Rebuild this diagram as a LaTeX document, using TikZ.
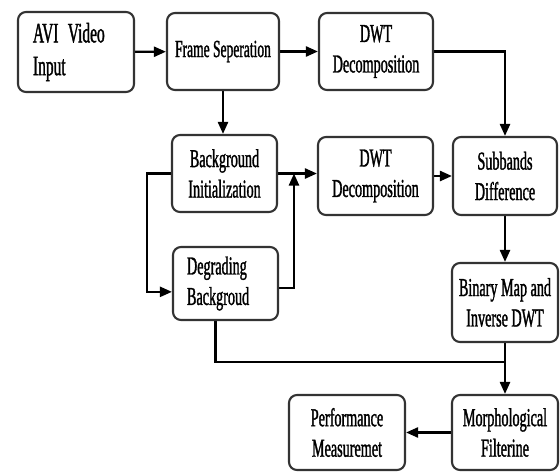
\documentclass[tikz,border=0pt]{standalone}
\usepackage{fontspec}
\setmainfont{Liberation Serif}[FakeStretch=0.55, FakeBold=1.2]
\usepackage{tikz}
\usetikzlibrary{arrows.meta}
\pgfdeclarelayer{bg}
\pgfsetlayers{bg,main}
\tikzset{
  blk/.style={draw=black!80, line width=1.8pt, rounded corners=0.24cm, fill=white,
    minimum width=3.2cm, minimum height=2.3cm, align=center, inner sep=2pt,
    font=\fontsize{22}{26}\selectfont},
  flow/.style={line width=2pt, -{Triangle[length=0.36cm, width=0.3cm]}},
  wire/.style={line width=2pt}
}
\begin{document}
\begin{tikzpicture}
        \useasboundingbox (0cm, 0cm) rectangle (16.8cm, -14.19cm);
        \node (avi) [blk, minimum width=3.48cm, minimum height=2.4cm, align=left, text width=2.58cm, font=\fontsize{24}{28}\selectfont] at (2.280000cm, -1.560000cm) {AVI Video\\Input};
        \node (frame) [blk, minimum width=3.36cm, minimum height=2.31cm, font=\fontsize{21}{25}\selectfont] at (6.690000cm, -1.545000cm) {Frame Seperation};
        \node (dwtA) [blk, minimum width=3.42cm, minimum height=2.31cm] at (11.280000cm, -1.545000cm) {DWT\\Decomposition};
        \node (bginit) [blk, minimum width=3.15cm, minimum height=2.31cm] at (6.735000cm, -5.205000cm) {Background\\Initialization};
        \node (dwtB) [blk, minimum width=3.45cm, minimum height=2.34cm] at (11.265000cm, -5.280000cm) {DWT\\Decomposition};
        \node (degrade) [blk, minimum width=3.15cm, minimum height=2.19cm, align=left, text width=2.31cm] at (6.765000cm, -8.505000cm) {Degrading\\Backgroud};
        \node (subband) [blk, minimum width=3.12cm, minimum height=2.34cm] at (15.150000cm, -5.280000cm) {Subbands\\Difference};
        \node (binmap) [blk, minimum width=3.18cm, minimum height=2.37cm] at (15.150000cm, -9.075000cm) {Binary Map and\\Inverse DWT};
        \node (morph) [blk, minimum width=3.18cm, minimum height=2.25cm] at (15.150000cm, -12.975000cm) {Morphological\\Filterine};
        \node (perf) [blk, minimum width=3.48cm, minimum height=2.25cm] at (10.410000cm, -12.975000cm) {Performance\\Measuremet};
        \coordinate (loopL) at (4.410000cm, -5.205000cm);
        \coordinate (join) at (8.820000cm, -5.205000cm);
        \coordinate (merge) at (15.150000cm, -10.860000cm);
        \begin{pgfonlayer}{bg}
                \draw [flow] (avi) -- (frame);
                \draw [flow] (frame) -- (dwtA);
                \draw [flow] (dwtA.east) -| (subband.north);
                \draw [flow] (frame.south) -- (frame.south |- bginit.north);
                \draw [flow] (bginit.east) -- (bginit.east -| dwtB.west);
                \draw [flow] (dwtB) -- (subband);
                \draw [flow] (bginit.west) -- (loopL) |- ([yshift=-0.25cm]degrade.west);
                \draw [flow] ([yshift=-0.13cm]degrade.east) -| (join);
                \draw [flow] (subband) -- (binmap);
                \draw [wire] ([xshift=-0.3cm]degrade.south) |- (merge);
                \draw [flow] (binmap) -- (morph);
                \draw [flow] (morph) -- (perf);
        \end{pgfonlayer}
\end{tikzpicture}
\end{document}
